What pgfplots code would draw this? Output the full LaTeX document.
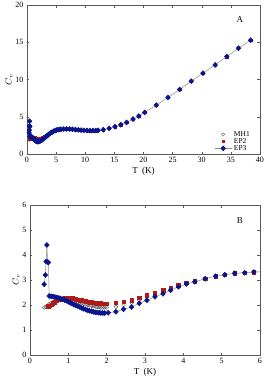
\documentclass[border=0pt]{standalone}
\usepackage{pgfplots}
\usepackage{pgfplotstable}
\usepackage{fontspec}
\setmainfont{Liberation Serif}
\pgfplotsset{compat=1.18}
\definecolor{epred}{RGB}{175,25,25}
\definecolor{epblue}{RGB}{10,20,140}
\definecolor{mhgray}{RGB}{90,90,90}

\pgfplotstableread{
T C
0.37 1.90
0.41 1.93
0.45 1.97
0.50 2.03
0.55 2.08
0.60 2.13
0.65 2.17
0.70 2.20
0.75 2.22
0.80 2.24
0.85 2.25
0.90 2.25
0.95 2.24
1.00 2.23
1.05 2.21
1.10 2.19
1.15 2.17
1.20 2.15
1.25 2.12
1.30 2.10
1.35 2.07
1.40 2.05
1.45 2.03
1.50 2.01
1.55 1.99
1.60 1.97
1.65 1.95
1.70 1.94
1.75 1.92
1.80 1.91
1.85 1.90
1.90 1.90
1.95 1.90
2.00 1.90
2.24 1.93
2.44 2.00
2.65 2.09
2.85 2.20
3.05 2.31
3.26 2.43
3.47 2.53
3.67 2.64
3.87 2.76
4.08 2.86
4.30 2.95
4.57 3.05
4.84 3.15
5.08 3.21
5.34 3.27
5.60 3.29
5.84 3.32
6.30 3.35
6.80 3.36
7.30 3.35
7.80 3.32
8.30 3.28
8.80 3.24
9.30 3.20
9.80 3.17
10.30 3.15
10.80 3.14
11.30 3.14
11.80 3.15
12.20 3.18
13.10 3.26
14.10 3.44
15.10 3.66
16.10 3.93
17.10 4.24
18.20 4.69
19.20 5.09
20.20 5.58
22.20 6.56
24.20 7.59
26.20 8.66
28.20 9.78
30.20 10.85
32.30 11.96
34.30 13.08
36.30 14.20
38.40 15.27
}\mhone

\pgfplotstableread{
T C
0.48 1.95
0.52 1.97
0.56 2.02
0.60 2.07
0.65 2.12
0.70 2.17
0.75 2.21
0.80 2.24
0.85 2.26
0.90 2.27
0.95 2.28
1.00 2.28
1.05 2.28
1.10 2.27
1.15 2.25
1.20 2.24
1.25 2.22
1.30 2.20
1.35 2.19
1.40 2.17
1.45 2.15
1.50 2.14
1.55 2.12
1.60 2.11
1.65 2.10
1.70 2.09
1.75 2.08
1.80 2.07
1.85 2.07
1.90 2.06
1.95 2.06
2.00 2.06
2.24 2.09
2.44 2.13
2.65 2.19
2.85 2.29
3.05 2.39
3.26 2.48
3.47 2.59
3.67 2.69
3.87 2.80
4.08 2.89
4.30 2.96
4.57 3.06
4.84 3.15
5.08 3.21
5.34 3.27
5.60 3.29
5.84 3.32
6.30 3.35
6.80 3.36
7.30 3.35
7.80 3.32
8.30 3.28
8.80 3.24
9.30 3.20
9.80 3.17
10.30 3.15
10.80 3.14
11.30 3.14
11.80 3.15
12.20 3.18
13.10 3.26
14.10 3.44
15.10 3.66
16.10 3.93
17.10 4.24
18.20 4.69
19.20 5.09
20.20 5.58
22.20 6.56
24.20 7.59
26.20 8.66
28.20 9.78
30.20 10.85
32.30 11.96
34.30 13.08
36.30 14.20
38.40 15.27
}\eptwo

\pgfplotstableread{
T C
0.37 2.83
0.40 3.20
0.42 3.74
0.44 4.40
0.46 3.72
0.48 3.70
0.50 2.36
0.55 2.35
0.60 2.34
0.65 2.32
0.70 2.30
0.75 2.28
0.80 2.26
0.85 2.23
0.90 2.20
0.95 2.17
1.00 2.13
1.05 2.09
1.10 2.05
1.15 2.01
1.20 1.98
1.25 1.95
1.30 1.92
1.35 1.88
1.40 1.85
1.45 1.82
1.50 1.79
1.55 1.77
1.60 1.75
1.65 1.73
1.70 1.71
1.75 1.70
1.80 1.69
1.85 1.68
1.90 1.68
1.95 1.68
2.04 1.69
2.24 1.73
2.44 1.83
2.65 1.92
2.85 2.07
3.05 2.19
3.26 2.33
3.47 2.45
3.67 2.59
3.87 2.73
4.08 2.84
4.30 2.93
4.57 3.05
4.84 3.15
5.08 3.21
5.34 3.27
5.60 3.29
5.84 3.32
6.30 3.35
6.80 3.36
7.30 3.35
7.80 3.32
8.30 3.28
8.80 3.24
9.30 3.20
9.80 3.17
10.30 3.15
10.80 3.14
11.30 3.14
11.80 3.15
12.20 3.18
13.10 3.26
14.10 3.44
15.10 3.66
16.10 3.93
17.10 4.24
18.20 4.69
19.20 5.09
20.20 5.58
22.20 6.56
24.20 7.59
26.20 8.66
28.20 9.78
30.20 10.85
32.30 11.96
34.30 13.08
36.30 14.20
38.40 15.27
}\epthree

\pgfplotsset{
  cvstyle/.style={
    scale only axis,
    axis line style={black!65, line width=0.5pt},
    tick style={black!65, line width=0.4pt},
    tick align=inside,
    xtick pos=both, ytick pos=both,
    major tick length=2.5pt,
    tick label style={font=\fontsize{8}{9}\selectfont},
    label style={font=\fontsize{9}{10}\selectfont},
    /pgf/number format/assume math mode=true,
    xlabel={T\ \ (K)},
    ylabel={$C_v$},
    xlabel style={yshift=3pt},
    ylabel style={yshift=-4pt},
  },
  mhst/.style={draw=mhgray, fill=white, only marks, mark=o, mark size=1.9pt, line width=0.4pt, mark options={fill=white}},
  ep2st/.style={color=epred, only marks, mark=square*, mark size=1.7pt},
  ep3st/.style={color=black!45, line width=0.5pt, mark=diamond*, mark size=2.5pt, mark options={draw=epblue, fill=epblue, xscale=1.25}},
}

\begin{document}
\begin{tikzpicture}
\path[use as bounding box] (0,0) rectangle (265pt,-378pt);
\begin{axis}[cvstyle,
  at={(27pt,-5pt)}, anchor=north west,
  width=233pt, height=149pt,
  xmin=0, xmax=40, ymin=0, ymax=20,
  xtick={0,5,...,40}, ytick={0,5,...,20},
  legend style={at={(rel axis cs:0.97,-0.005)}, anchor=south east, draw=none, fill=none,
    font=\fontsize{7.5}{7}\selectfont, row sep=-3.5pt, inner sep=1pt},
  legend cell align=left,
]
\addplot[mhst, mark size=1.6pt] table[x=T,y=C] {\mhone};
\addlegendentry{MH1}
\addplot[ep2st, mark size=1.2pt] table[x=T,y=C] {\eptwo};
\addlegendentry{EP2}
\addplot[ep3st] table[x=T,y=C] {\epthree};
\addlegendentry{EP3}
\node[font=\fontsize{9}{10}\selectfont] at (rel axis cs:0.914,0.9) {A};
\end{axis}

\begin{axis}[cvstyle,
  at={(30pt,-205pt)}, anchor=north west,
  width=230pt, height=150pt,
  xmin=0, xmax=6, ymin=0, ymax=6,
  xtick={0,1,...,6}, ytick={0,1,...,6},
]
\addplot[mhst] table[x=T,y=C] {\mhone};
\addplot[ep2st] table[x=T,y=C] {\eptwo};
\addplot[ep3st] table[x=T,y=C] {\epthree};
\node[font=\fontsize{9}{10}\selectfont] at (rel axis cs:0.913,0.893) {B};
\end{axis}
\end{tikzpicture}
\end{document}
